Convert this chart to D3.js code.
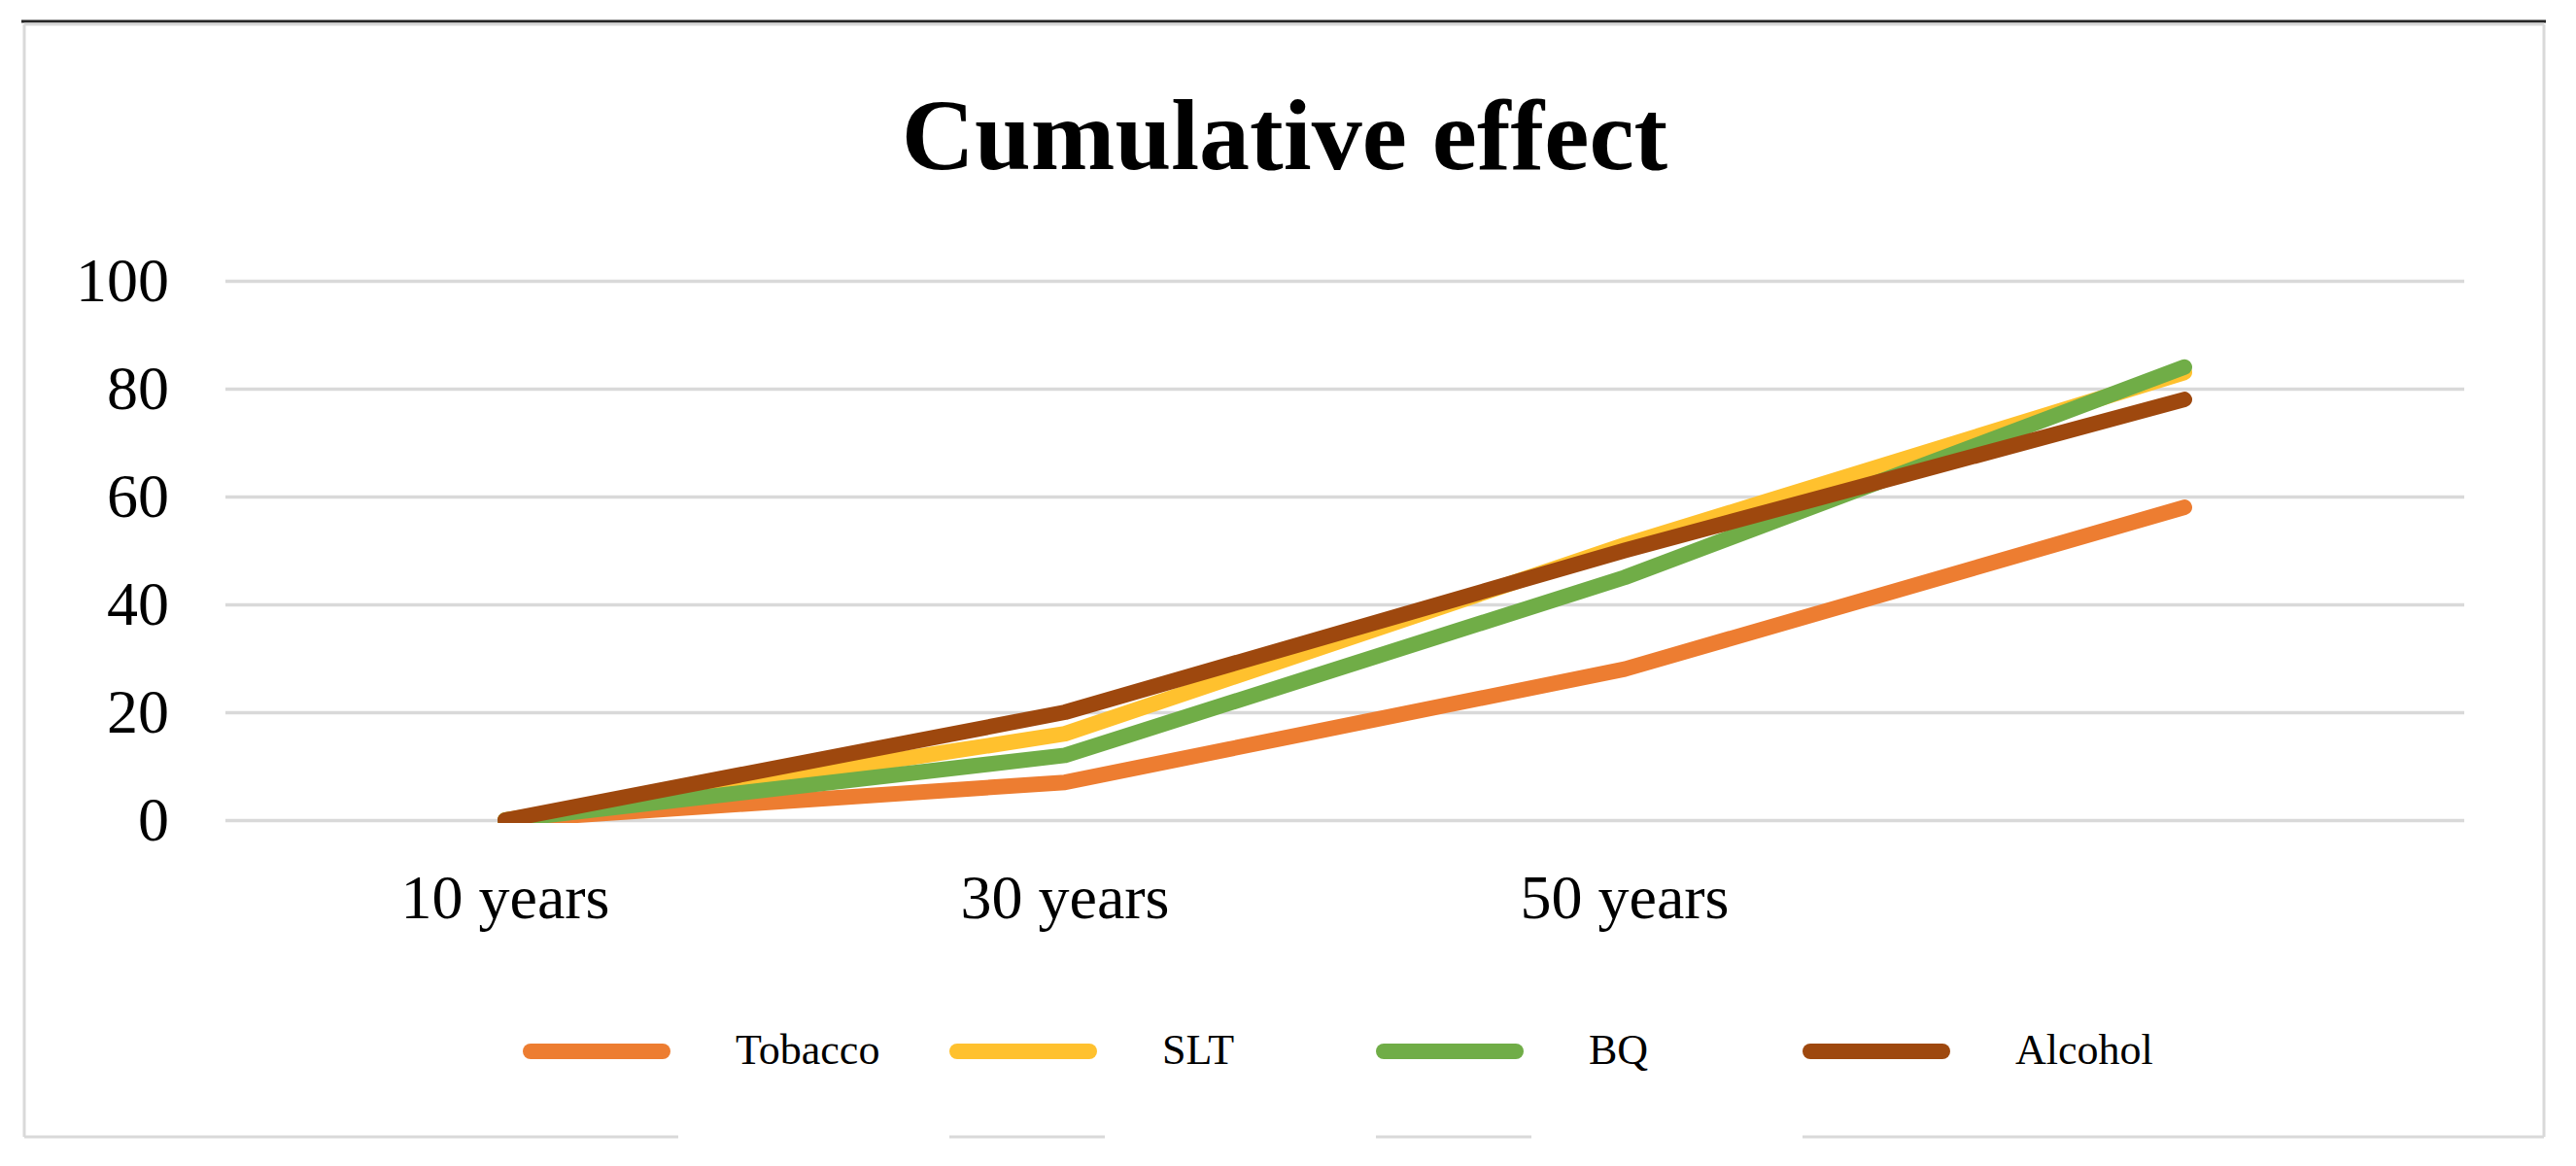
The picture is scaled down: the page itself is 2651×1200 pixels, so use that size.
<!DOCTYPE html>
<html>
<head>
<meta charset="utf-8">
<script src="https://cdn.jsdelivr.net/npm/d3@7"></script>
<style>
    body { margin: 0; background: #fff; }
    svg { display: block; }
</style>
</head>
<body>
<svg id="chart"></svg>
<script>
const categories = ['10 years', '30 years', '50 years', '']
const seriesNames = ['Tobacco', 'SLT', 'BQ', 'Alcohol']
const tobacco = [0, 7, 28, 58]
const slt = [0, 16, 51, 83]
const bq = [0, 12, 45, 84]
const alcohol = [0, 20, 50, 78]
const yTickValues = [0, 20, 40, 60, 80, 100]
const colours = ['#ED7D31', '#FFC12E', '#70AD47', '#9E480E']

const width = 2651, height = 1200
const fontFamily = '"Liberation Serif", "Times New Roman", serif'
const gridColour = '#d9d9d9'
const plot = { left: 232, right: 2536, top: 289, bottom: 844 }

const svg = d3.select('#chart').attr('width', width).attr('height', height)

const x = d3.scaleBand().domain(categories).range([plot.left, plot.right])
const y = d3.scaleLinear().domain([0, 100]).range([plot.bottom, plot.top])
const cx = d => x(d) + x.bandwidth() / 2

// top rule of the page
svg.append('line')
    .attr('x1', 22).attr('x2', 2620).attr('y1', 22).attr('y2', 22)
    .attr('stroke', '#262626').attr('stroke-width', 3)

// title
svg.append('text')
    .attr('x', 1322).attr('y', 174)
    .attr('text-anchor', 'middle')
    .style('font-family', fontFamily)
    .style('font-weight', 'bold')
    .style('font-size', '104px')
    .text('Cumulative effect')

// gridlines
svg.append('g')
    .attr('transform', `translate(${plot.left}, 0)`)
    .call(d3.axisLeft(y).tickValues(yTickValues).tickSize(-(plot.right - plot.left)).tickFormat(''))
    .call(g => g.select('.domain').remove())
    .call(g => g.selectAll('.tick line').attr('stroke', gridColour).attr('stroke-width', 3.5))

// y axis labels
svg.append('g')
    .attr('transform', `translate(${plot.left}, 0)`)
    .call(d3.axisLeft(y).tickValues(yTickValues).tickSize(0).tickPadding(58))
    .call(g => g.select('.domain').remove())
    .call(g => g.selectAll('text').attr('fill', '#000').style('font-family', fontFamily).style('font-size', '64px'))

// x axis labels
svg.append('g')
    .attr('transform', `translate(0, ${plot.bottom})`)
    .call(d3.axisBottom(x).tickSize(0).tickPadding(56))
    .call(g => g.select('.domain').remove())
    .call(g => g.selectAll('text').attr('fill', '#000').style('font-family', fontFamily).style('font-size', '64px'))

// lines, clipped at the bottom of the plot area
svg.append('clipPath').attr('id', 'plot-clip')
    .append('rect')
    .attr('x', 0).attr('y', plot.top - 60)
    .attr('width', width).attr('height', plot.bottom - plot.top + 63)

const seriesValues = [tobacco, slt, bq, alcohol]
const line = d3.line().x((d, i) => cx(categories[i])).y(d => y(d))

svg.append('g')
    .attr('clip-path', 'url(#plot-clip)')
    .selectAll('path')
    .data(seriesValues)
    .join('path')
    .attr('d', d => line(d))
    .attr('fill', 'none')
    .attr('stroke', (d, i) => colours[i])
    .attr('stroke-width', 16)
    .attr('stroke-linecap', 'round')
    .attr('stroke-linejoin', 'round')

// legend
const legendY = 1082
const legendStart = 538
const legendStep = 439
const swatchLength = 152
const legend = svg.append('g')

seriesNames.forEach((name, i) => {
    const lx = legendStart + i * legendStep
    legend.append('line')
        .attr('x1', lx + 8).attr('x2', lx + swatchLength - 8)
        .attr('y1', legendY).attr('y2', legendY)
        .attr('stroke', colours[i])
        .attr('stroke-width', 16)
        .attr('stroke-linecap', 'round')
    legend.append('text')
        .attr('x', lx + 219).attr('y', legendY + 13)
        .style('font-family', fontFamily)
        .style('font-size', '44px')
        .text(name)
})

// chart border: sides, top, and a bottom edge broken by the legend text
const borderY = 1170
const border = svg.append('g').attr('stroke', gridColour).attr('stroke-width', 3)
border.append('line').attr('x1', 25).attr('x2', 2618).attr('y1', 25).attr('y2', 25)
border.append('line').attr('x1', 25).attr('x2', 25).attr('y1', 25).attr('y2', borderY)
border.append('line').attr('x1', 2618).attr('x2', 2618).attr('y1', 25).attr('y2', borderY)

seriesNames.forEach((name, i) => {
    const lx = legendStart + i * legendStep
    const from = i === 0 ? 25 : lx
    const to = i === seriesNames.length - 1 ? 2618 : lx + swatchLength + 8
    border.append('line').attr('x1', from).attr('x2', to).attr('y1', borderY).attr('y2', borderY)
})
</script>
</body>
</html>
